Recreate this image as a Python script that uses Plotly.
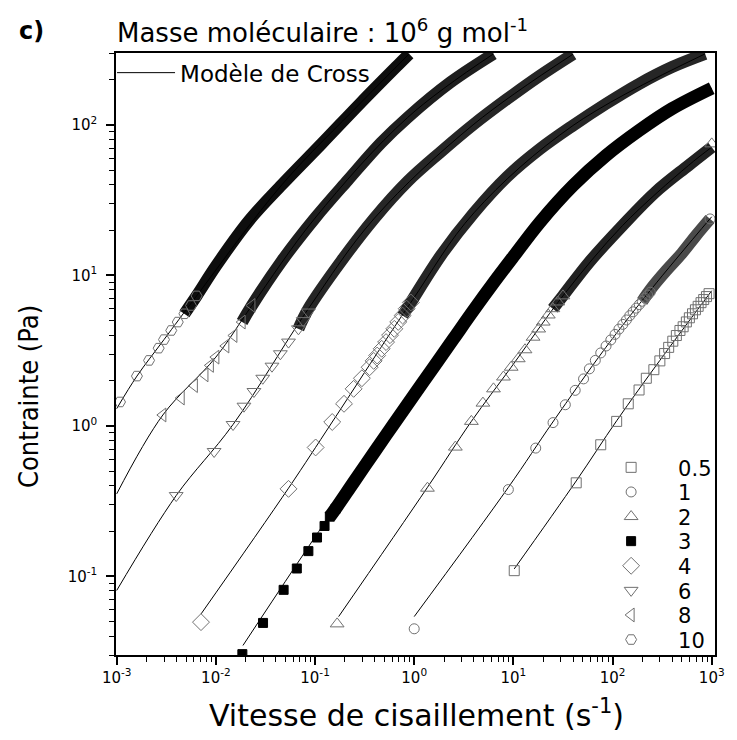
import plotly.graph_objects as go

FONT = "DejaVu Sans, Liberation Sans, sans-serif"

# ---------------- data ----------------
labels = ["0.5", "1", "2", "3", "4", "6", "8", "10"]

# 0.5
p05_x = [10.2, 43, 76, 110, 144, 185, 219, 261, 300, 335, 368, 405, 440, 478, 515, 555, 595, 640, 685, 730, 780, 830, 885, 940]
p05_y = [0.109, 0.418, 0.748, 1.07, 1.40, 1.73, 2.07, 2.36, 2.70, 3.02, 3.32, 3.65, 3.98, 4.30, 4.55, 4.90, 5.22, 5.55, 5.90, 6.22, 6.58, 6.90, 7.22, 7.55]
f05_x = [10.2, 43, 110, 300, 1000]
f05_y = [0.112, 0.43, 1.08, 2.72, 7.9]

# 1
p1_x = [1.0, 8.9, 16.8, 25.1, 33.4, 42, 51, 58.4, 67, 76, 86, 96, 106, 116, 127, 138, 149, 161, 173, 186, 199, 212, 226, 240, 962]
p1_y = [0.0448, 0.377, 0.711, 1.05, 1.38, 1.72, 2.05, 2.39, 2.72, 3.05, 3.39, 3.72, 4.05, 4.39, 4.72, 5.05, 5.39, 5.72, 6.05, 6.39, 6.72, 7.05, 7.39, 7.72, 23.7]
b1_x = [199, 250, 350, 500, 700, 962]
b1_y = [6.72, 8.3, 10.8, 14.0, 18.5, 23.7]
f1_x = [1.0, 8.9, 25, 85, 250, 1000]
f1_y = [0.054, 0.39, 1.06, 3.3, 8.2, 24.5]

# 2
p2_x = [0.167, 1.36, 2.6, 3.77, 4.93, 6.3, 7.94, 9.5, 11.2, 13.1, 15.8, 18, 20, 22.5, 25, 28, 31.6, 1000]
p2_y = [0.0483, 0.385, 0.722, 1.07, 1.415, 1.76, 2.11, 2.45, 2.79, 3.2, 3.88, 4.4, 4.89, 5.45, 6.0, 6.65, 7.3, 74.7]
b2_x = [25, 31.6, 58, 126, 271, 583, 1000]
b2_y = [6.0, 7.3, 12.2, 21.4, 35.7, 53.7, 71]
f2_x = [0.173, 1.36, 3.77, 9.5, 31.6, 126, 583, 1000]
f2_y = [0.054, 0.39, 1.07, 2.45, 7.3, 21.4, 53.7, 71]

# 3
p3_x = [0.0185, 0.0299, 0.0482, 0.0655, 0.0857, 0.1047, 0.1247, 0.141, 0.161]
p3_y = [0.0304, 0.049, 0.0813, 0.1127, 0.147, 0.181, 0.216, 0.249, 0.281]
b3_x = [0.141, 0.161, 0.25, 0.4, 0.63, 1.0, 1.6, 2.5, 4.0, 6.3, 10, 18.5, 40, 86, 185, 398, 1000]
b3_y = [0.249, 0.281, 0.43, 0.675, 1.04, 1.61, 2.5, 3.8, 5.9, 8.9, 13.3, 22.5, 39.5, 62.5, 91.6, 128, 175]
f3_x = [0.01875, 0.161, 1.0, 10, 86, 1000]
f3_y = [0.0347, 0.29, 1.61, 13.3, 62.5, 175]

# 4
p4_x = [0.00708, 0.054, 0.1014, 0.149, 0.196, 0.245, 0.297, 0.355, 0.39, 0.423, 0.47, 0.52, 0.57, 0.63, 0.69, 0.764, 0.84, 0.925]
p4_y = [0.0496, 0.381, 0.718, 1.06, 1.40, 1.76, 2.07, 2.45, 2.7, 2.93, 3.25, 3.6, 4.0, 4.41, 4.9, 5.4, 6.0, 6.6]
b4_x = [0.764, 0.925, 1.85, 4, 8.6, 18.5, 40, 86, 185, 398, 858]
b4_y = [5.4, 6.6, 13.5, 26, 45, 69, 99, 138, 187, 242, 296]
f4_x = [0.0071, 0.054, 0.149, 0.925, 4, 40, 858]
f4_y = [0.0563, 0.385, 1.06, 6.6, 26, 99, 296]

# 6
p6_x = [0.00398, 0.0096, 0.0149, 0.0192, 0.0242, 0.0297, 0.0368, 0.0447, 0.054, 0.068, 0.076, 0.0857]
p6_y = [0.344, 0.675, 1.02, 1.35, 1.69, 2.07, 2.49, 3.01, 3.6, 4.41, 5.0, 5.7]
b6_x = [0.068, 0.0857, 0.185, 0.398, 0.857, 1.85, 4, 8.6, 18.5, 40]
b6_y = [4.41, 6.0, 12.5, 24, 42, 66, 101, 148, 212, 295]
f6_x = [0.001, 0.00398, 0.0149, 0.0857, 0.398, 4, 40]
f6_y = [0.0805, 0.344, 1.02, 6.0, 24, 101, 295]

# 8
p8_x = [0.00292, 0.00447, 0.00607, 0.00776, 0.0088, 0.01, 0.0126, 0.0152, 0.0184, 0.0231]
p8_y = [1.18, 1.53, 1.85, 2.18, 2.52, 2.86, 3.39, 3.98, 4.89, 6.3]
b8_x = [0.0184, 0.0231, 0.0464, 0.1, 0.215, 0.464, 0.86, 2.33, 6.3]
b8_y = [4.89, 6.3, 12.5, 24, 43, 76, 112, 192, 296]
f8_x = [0.001, 0.00292, 0.01, 0.0231, 0.1, 0.86, 6.3]
f8_y = [0.353, 1.18, 2.86, 6.3, 24, 112, 296]

# 10
p10_x = [0.00108, 0.0016, 0.00212, 0.00265, 0.003, 0.00355, 0.00413, 0.00482, 0.00562, 0.0064]
p10_y = [1.44, 2.14, 2.72, 3.28, 3.74, 4.3, 4.89, 5.55, 6.3, 7.3]
b10_x = [0.00482, 0.0064, 0.01, 0.0215, 0.0464, 0.1165, 0.292, 0.68, 0.89]
b10_y = [5.55, 7.3, 11.5, 23, 40, 74.8, 141, 248, 296]
f10_x = [0.001, 0.0016, 0.003, 0.0064, 0.0464, 0.292, 0.89]
f10_y = [1.3, 2.14, 3.74, 7.3, 40, 141, 296]

x_tickvals = [1e-3, 1e-2, 1e-1, 1, 10, 100, 1000]
x_ticktext = ["10<sup>-3</sup>", "10<sup>-2</sup>", "10<sup>-1</sup>", "10<sup>0</sup>",
              "10<sup>1</sup>", "10<sup>2</sup>", "10<sup>3</sup>"]
y_tickvals = [1e-1, 1, 10, 100]
y_ticktext = ["10<sup>-1</sup>", "10<sup>0</sup>", "10<sup>1</sup>", "10<sup>2</sup>"]

# ---------------- styling ----------------
series = [
    dict(name=labels[0], sym="square-open", size=10, color="#707070", px=p05_x, py=p05_y, bx=None, by=None, fx=f05_x, fy=f05_y, bc=None),
    dict(name=labels[1], sym="circle-open", size=10, color="#707070", px=p1_x, py=p1_y, bx=b1_x, by=b1_y, fx=f1_x, fy=f1_y, bc="#4a4a4a"),
    dict(name=labels[2], sym="triangle-up-open", size=12, color="#707070", px=p2_x, py=p2_y, bx=b2_x, by=b2_y, fx=f2_x, fy=f2_y, bc="#222222"),
    dict(name=labels[3], sym="square", size=9, color="#000000", px=p3_x, py=p3_y, bx=b3_x, by=b3_y, fx=f3_x, fy=f3_y, bc="#000000"),
    dict(name=labels[4], sym="diamond-open", size=13, color="#707070", px=p4_x, py=p4_y, bx=b4_x, by=b4_y, fx=f4_x, fy=f4_y, bc="#262626"),
    dict(name=labels[5], sym="triangle-down-open", size=12, color="#707070", px=p6_x, py=p6_y, bx=b6_x, by=b6_y, fx=f6_x, fy=f6_y, bc="#262626"),
    dict(name=labels[6], sym="triangle-left-open", size=12, color="#707070", px=p8_x, py=p8_y, bx=b8_x, by=b8_y, fx=f8_x, fy=f8_y, bc="#1e1e1e"),
    dict(name=labels[7], sym="hexagon2-open", size=11, color="#707070", px=p10_x, py=p10_y, bx=b10_x, by=b10_y, fx=f10_x, fy=f10_y, bc="#0e0e0e"),
]

fig = go.Figure()

# dense bands of overlapping markers
for s in series:
    if s["bx"] is not None:
        fig.add_trace(go.Scatter(x=s["bx"], y=s["by"], mode="lines",
                                 line=dict(color=s["bc"], width=13 if s["name"] == "3" else 12, shape="spline"),
                                 showlegend=False, hoverinfo="skip"))

# Cross model fits
for i, s in enumerate(series):
    fig.add_trace(go.Scatter(x=s["fx"], y=s["fy"], mode="lines",
                             line=dict(color="black", width=1, shape="spline"),
                             name="Modèle de Cross", showlegend=(i == 0),
                             legend="legend", hoverinfo="skip"))

# measured points, one small legend per entry so the rows can be placed exactly
row0, row_step = 467.7, 24.6
plot_top, plot_h = 53, 602
legends = {}
for i, s in enumerate(series):
    key = "legend%d" % (i + 2)
    fig.add_trace(go.Scatter(x=s["px"], y=s["py"], mode="markers", name=s["name"],
                             marker=dict(symbol=s["sym"], size=s["size"], color=s["color"],
                                         line=dict(color=s["color"], width=1)),
                             legend=key))
    yc = row0 + row_step * i
    legends[key] = dict(x=0.7815, y=1 - (yc - plot_top) / plot_h, xanchor="left", yanchor="middle",
                        bgcolor="rgba(0,0,0,0)", font=dict(size=21, family=FONT, color="black"),
                        itemwidth=84)

minor_x = [k * 10.0 ** d for d in range(-3, 3) for k in range(2, 10)]
minor_y = [k * 10.0 ** d for d in range(-2, 3) for k in range(2, 10)]

axis_common = dict(showline=True, linecolor="black", linewidth=1.5, mirror=True,
                   ticks="outside", ticklen=8, tickwidth=1.5, tickcolor="black",
                   showgrid=False, zeroline=False,
                   tickfont=dict(family=FONT, size=15, color="black"))

fig.update_xaxes(type="log", range=[-3.007, 3.033], tickmode="array",
                 tickvals=x_tickvals, ticktext=x_ticktext,
                 minor=dict(ticks="outside", ticklen=5, tickwidth=1, tickcolor="black",
                            tickmode="array", tickvals=minor_x, showgrid=False),
                 **axis_common)
fig.update_yaxes(type="log", range=[-1.5229, 2.4771], tickmode="array",
                 tickvals=y_tickvals, ticktext=y_ticktext, ticklabelstandoff=6,
                 minor=dict(ticks="outside", ticklen=5, tickwidth=1, tickcolor="black",
                            tickmode="array", tickvals=minor_y, showgrid=False),
                 **axis_common)

fig.update_layout(
    width=737, height=740,
    margin=dict(l=116, r=17, t=53, b=85),
    paper_bgcolor="white", plot_bgcolor="white",
    font=dict(family=FONT, color="black"),
    legend=dict(x=-0.0066, y=1 - (72.7 - plot_top) / plot_h, xanchor="left", yanchor="middle",
                bgcolor="rgba(0,0,0,0)", font=dict(size=23, family=FONT, color="black"),
                itemwidth=58),
    annotations=[
        dict(text="<b>c)</b>", xref="paper", yref="paper", x=-0.166, y=1.036,
             xanchor="left", yanchor="middle", showarrow=False,
             font=dict(size=24, family=FONT)),
        dict(text="Masse moléculaire : 10<sup>6</sup> g mol<sup>-1</sup>", xref="paper", yref="paper",
             x=-0.002, y=1.036, xanchor="left", yanchor="middle", showarrow=False,
             font=dict(size=26, family=FONT)),
        dict(text="Vitesse de cisaillement (s<sup>-1</sup>)", xref="paper", yref="paper",
             x=0.502, y=-0.097, xanchor="center", yanchor="middle", showarrow=False,
             font=dict(size=30, family=FONT)),
        dict(text="Contrainte (Pa)", xref="paper", yref="paper", textangle=-90,
             x=-0.147, y=0.43, xanchor="center", yanchor="middle", showarrow=False,
             font=dict(size=27, family="Liberation Sans Narrow, DejaVu Sans Condensed, sans-serif")),
    ],
    **legends,
)

fig.write_html("out.html")
